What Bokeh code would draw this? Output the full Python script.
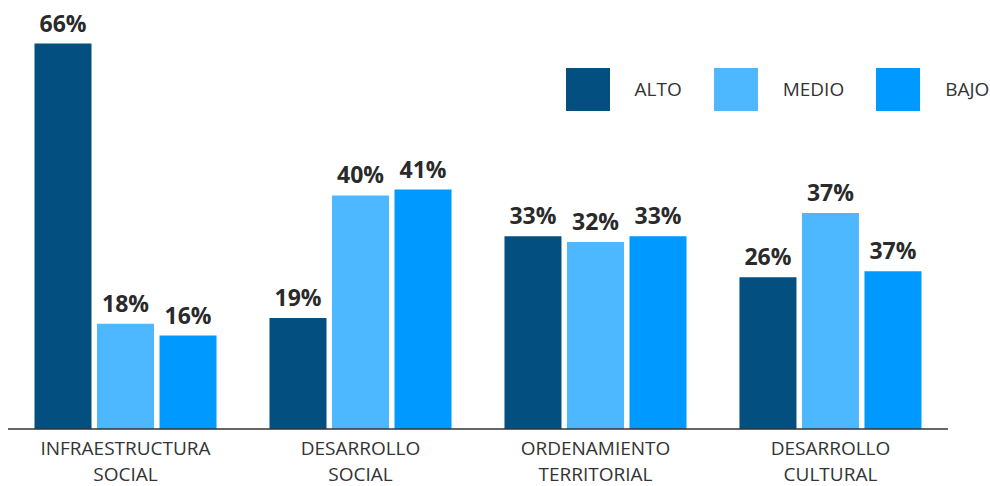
from bokeh.plotting import figure
from bokeh.models import ColumnDataSource, Range1d, Legend, LegendItem
from bokeh.transform import dodge
from bokeh.core.properties import value
from bokeh.embed import file_html
from bokeh.resources import INLINE

categories = ["INFRAESTRUCTURA\nSOCIAL", "DESARROLLO\nSOCIAL", "ORDENAMIENTO\nTERRITORIAL", "DESARROLLO\nCULTURAL"]
series = ["ALTO", "MEDIO", "BAJO"]
alto = [66, 19, 33, 26]
medio = [18, 40, 32, 37]
bajo = [16, 41, 33, 27]
alto_labels = ["66%", "19%", "33%", "26%"]
medio_labels = ["18%", "40%", "32%", "37%"]
bajo_labels = ["16%", "41%", "33%", "37%"]
colors = ["#024F80", "#4DB8FF", "#0099FF"]

FONT = "Open Sans"
xs = list(range(len(categories)))
line1 = [c.split("\n")[0] for c in categories]
line2 = [c.split("\n")[1] for c in categories]

src = ColumnDataSource(dict(x=xs, alto=alto, medio=medio, bajo=bajo,
                            la=alto_labels, lm=medio_labels, lb=bajo_labels,
                            l1=line1, l2=line2, zero=[0] * len(xs)))

p = figure(width=990, height=486, output_backend="svg", toolbar_location=None,
           x_range=Range1d(-0.532, 3.681), y_range=Range1d(-9.846, 73.37),
           min_border=0, min_border_left=0, min_border_right=0,
           min_border_top=0, min_border_bottom=0)
p.axis.visible = False
p.grid.visible = False
p.outline_line_color = None
p.background_fill_color = "white"
p.border_fill_color = "white"

off = 0.266
w = 0.2426
renderers = []
for col, lab, c, o in [("alto", "la", colors[0], -off), ("medio", "lm", colors[1], 0.0), ("bajo", "lb", colors[2], off)]:
    r = p.vbar(x=dodge("x", o, range=p.x_range), top=col, width=w, bottom=0, source=src,
               fill_color=c, line_color=None)
    renderers.append(r)
    p.text(x=dodge("x", o, range=p.x_range), y=col, text=lab, source=src,
           text_align="center", text_baseline="alphabetic", y_offset=-21,
           text_font=value(FONT), text_font_style="bold", text_font_size="23px",
           text_color="#2a2a2a")

n = len(categories)
p.segment(x0=[-0.5], y0=[0], x1=[n - 0.5], y1=[0], line_color="#333333", line_width=1.5)

p.text(x="x", y="zero", text="l1", source=src, text_align="center", text_baseline="alphabetic",
       y_offset=19.5, text_font=value(FONT), text_font_size="19px", text_color="#333333")
p.text(x="x", y="zero", text="l2", source=src, text_align="center", text_baseline="alphabetic",
       y_offset=45.5, text_font=value(FONT), text_font_size="19px", text_color="#333333")

legend = Legend(items=[LegendItem(label=s, renderers=[r]) for s, r in zip(series, renderers)],
                orientation="horizontal", location=(559.5, 370),
                glyph_width=55, glyph_height=54, label_standoff=20, spacing=26,
                padding=0, margin=0, border_line_color=None, background_fill_alpha=0,
                label_text_font=FONT, label_text_font_size="19px", label_text_color="#333333")
p.add_layout(legend)

open("out.html", "w").write(file_html(p, INLINE))
